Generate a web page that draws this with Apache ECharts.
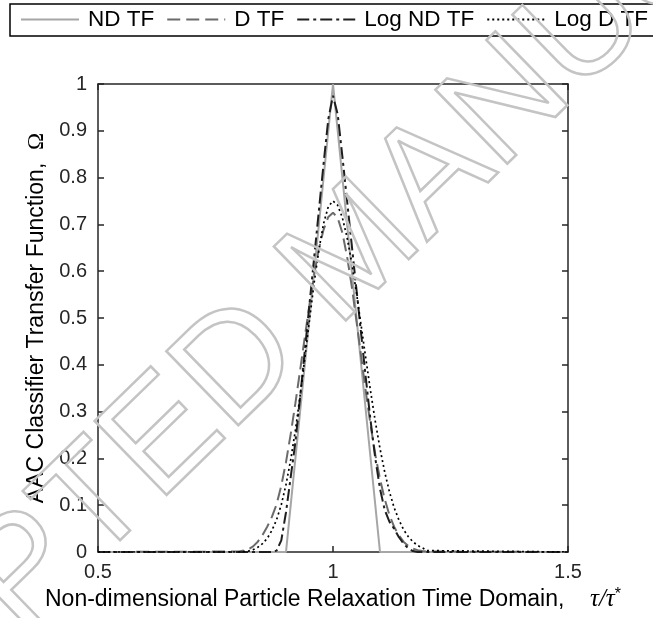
<!DOCTYPE html>
<html>
<head>
<meta charset="utf-8">
<title>AAC transfer functions</title>
<script src="https://cdn.jsdelivr.net/npm/echarts@6/dist/echarts.min.js"></script>
<style>
  html, body { margin: 0; padding: 0; background: #fff; }
  #chart { width: 653px; height: 618px; }
</style>
</head>
<body>
<div id="chart"></div>
<script>
// tau/tau* grid
const xs = [0.5,
  0.80, 0.81, 0.82, 0.83, 0.84, 0.85, 0.86, 0.87, 0.88, 0.89,
  0.90, 0.91, 0.92, 0.93, 0.94, 0.95, 0.96, 0.97, 0.98, 0.99,
  1.00, 1.01, 1.02, 1.03, 1.04, 1.05, 1.06, 1.07, 1.08, 1.09,
  1.10, 1.11, 1.12, 1.13, 1.14, 1.15, 1.16, 1.17, 1.18, 1.19,
  1.20, 1.5];

// ND TF
const ndTF = [0,
  0, 0, 0, 0, 0, 0, 0, 0, 0, 0,
  0, 0.1, 0.2, 0.3, 0.4, 0.5, 0.6, 0.7, 0.8, 0.9,
  1, 0.9, 0.8, 0.7, 0.6, 0.5, 0.4, 0.3, 0.2, 0.1,
  0, 0, 0, 0, 0, 0, 0, 0, 0, 0,
  0, 0];

// D TF
const dTF = [0,
  0.001, 0.003, 0.006, 0.012, 0.022, 0.036, 0.054, 0.075, 0.102, 0.142,
  0.192, 0.252, 0.318, 0.388, 0.459, 0.529, 0.593, 0.648, 0.689, 0.716,
  0.725, 0.714, 0.682, 0.631, 0.567, 0.493, 0.417, 0.341, 0.271, 0.208,
  0.156, 0.113, 0.079, 0.054, 0.036, 0.022, 0.013, 0.007, 0.004, 0.002,
  0.001, 0];

// Log ND TF
const logNdTF = [0,
  0, 0, 0, 0, 0, 0, 0, 0, 0.003, 0.025,
  0.085, 0.16, 0.235, 0.33, 0.43, 0.53, 0.63, 0.73, 0.83, 0.925,
  0.975, 0.935, 0.845, 0.75, 0.655, 0.56, 0.465, 0.37, 0.28, 0.2,
  0.135, 0.09, 0.065, 0.05, 0.032, 0.018, 0.008, 0.002, 0, 0,
  0, 0];

// Log D TF
const logDTF = [0,
  0, 0.001, 0.002, 0.005, 0.01, 0.018, 0.029, 0.046, 0.069, 0.101,
  0.144, 0.197, 0.26, 0.334, 0.414, 0.496, 0.576, 0.646, 0.702, 0.738,
  0.75, 0.741, 0.714, 0.672, 0.617, 0.553, 0.483, 0.412, 0.343, 0.279,
  0.221, 0.171, 0.129, 0.095, 0.069, 0.048, 0.033, 0.022, 0.014, 0.009,
  0.003, 0];

const xTicks = [0.5, 1, 1.5];
const yTicks = [0, 0.1, 0.2, 0.3, 0.4, 0.5, 0.6, 0.7, 0.8, 0.9, 1];

const watermark = 'ACCEPTED MANUSCRIPT';

const font = 'Liberation Sans, Arial, sans-serif';
const axisColor = '#262626';

let chart = echarts.init(document.getElementById('chart'), null, { renderer: 'canvas' });

const pairs = (ys) => xs.map((x, i) => [x, ys[i]]);

const boxAxis = (extra) => Object.assign({
  type: 'value',
  axisLine: { show: true, onZero: false, lineStyle: { color: axisColor, width: 1.5 } },
  axisTick: { show: true, inside: true, length: 6, lineStyle: { color: axisColor, width: 1.5 } },
  splitLine: { show: false }
}, extra);

chart.setOption({
  animation: false,
  backgroundColor: '#fff',
  grid: { left: 98, right: 85, top: 84, bottom: 66 },
  legend: {
    left: 20,
    top: 8,
    padding: 0,
    itemWidth: 58,
    itemHeight: 14,
    itemGap: 12,
    itemStyle: { opacity: 0 },
    textStyle: { fontFamily: font, fontSize: 22.5, color: '#000', padding: [0, 0, 0, 4] },
    data: ['ND TF', 'D TF', 'Log ND TF', 'Log D TF']
  },
  graphic: [
    {
      type: 'rect',
      shape: { x: 10, y: 4, width: 700, height: 32 },
      style: { fill: 'none', stroke: '#000', lineWidth: 1.5 },
      silent: true
    },
    {
      // journal watermark, outline only
      type: 'text',
      x: 356, y: 253,
      rotation: 44.2 * Math.PI / 180,
      z: 100,
      silent: true,
      style: {
        text: watermark,
        fontFamily: font,
        fontSize: 150,
        align: 'center',
        verticalAlign: 'middle',
        fill: 'none',
        stroke: '#c4c4c4',
        lineWidth: 2.5
      }
    }
  ],
  xAxis: [
    boxAxis({
      position: 'bottom',
      min: xTicks[0], max: xTicks[xTicks.length - 1], interval: 0.5,
      axisLabel: { fontFamily: font, fontSize: 20, color: axisColor, margin: 10 },
      name: 'Non-dimensional Particle Relaxation Time Domain,    {m|τ/τ}{s|*}',
      nameLocation: 'middle',
      nameGap: 35,
      nameTextStyle: {
        fontFamily: font, fontSize: 23, color: '#000',
        rich: {
          m: { fontFamily: 'Liberation Serif, serif', fontStyle: 'italic', fontSize: 25, color: '#000' },
          s: { fontFamily: font, fontSize: 16, color: '#000', verticalAlign: 'top', padding: [0, 0, 8, 0] }
        }
      }
    }),
    boxAxis({
      position: 'top',
      min: xTicks[0], max: xTicks[xTicks.length - 1], interval: 0.5,
      axisLabel: { show: false }
    })
  ],
  yAxis: [
    boxAxis({
      position: 'left',
      min: yTicks[0], max: yTicks[yTicks.length - 1], interval: 0.1,
      axisLabel: { fontFamily: font, fontSize: 20, color: axisColor, margin: 11 },
      name: 'AAC Classifier Transfer Function,  {m|Ω}',
      nameLocation: 'middle',
      nameGap: 41,
      nameTextStyle: {
        fontFamily: font, fontSize: 23, color: '#000',
        rich: {
          m: { fontFamily: 'Liberation Serif, serif', fontSize: 23, color: '#000' }
        }
      }
    }),
    boxAxis({
      position: 'right',
      min: yTicks[0], max: yTicks[yTicks.length - 1], interval: 0.1,
      axisLabel: { show: false }
    })
  ],
  series: [
    {
      name: 'ND TF', type: 'line', showSymbol: false, symbol: 'none',
      data: pairs(ndTF),
      lineStyle: { color: '#a6a6a6', width: 2 },
      itemStyle: { color: '#a6a6a6' }
    },
    {
      name: 'D TF', type: 'line', showSymbol: false, symbol: 'none',
      data: pairs(dTF),
      lineStyle: { color: '#6b6b6b', width: 2, type: [13, 6] },
      itemStyle: { color: '#6b6b6b' }
    },
    {
      name: 'Log ND TF', type: 'line', showSymbol: false, symbol: 'none',
      data: pairs(logNdTF),
      lineStyle: { color: '#1e1e1e', width: 2, type: [12, 4, 3, 4] },
      itemStyle: { color: '#1e1e1e' }
    },
    {
      name: 'Log D TF', type: 'line', showSymbol: false, symbol: 'none',
      data: pairs(logDTF),
      lineStyle: { color: '#000', width: 1.7, type: [2, 3] },
      itemStyle: { color: '#000' }
    }
  ]
});
</script>
</body>
</html>
